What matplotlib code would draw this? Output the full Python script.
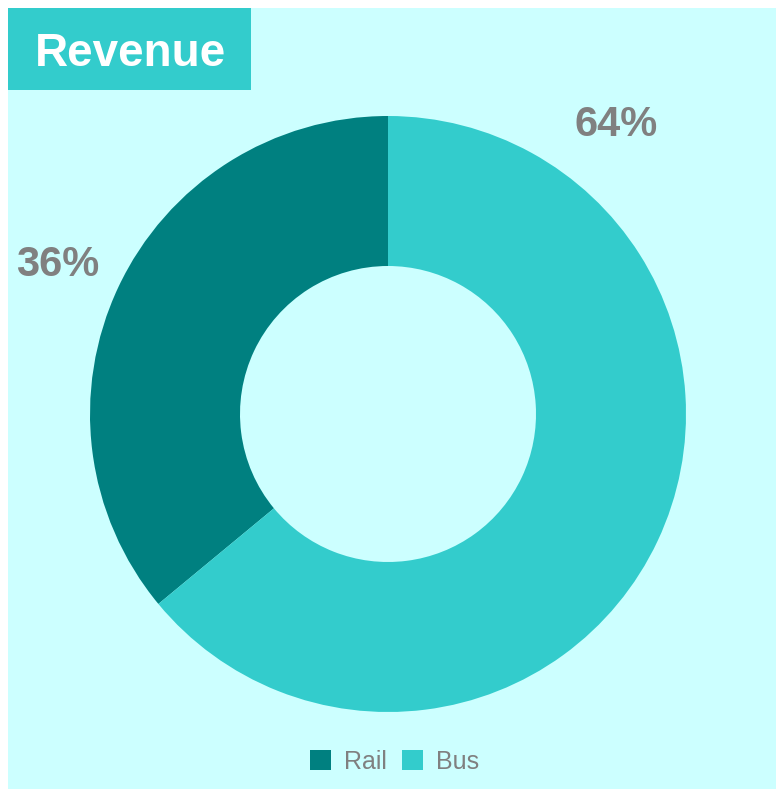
import matplotlib
matplotlib.use("Agg")
import matplotlib.pyplot as plt
from matplotlib.patches import Rectangle, Patch

categories = ["Rail", "Bus"]
shares = [36, 64]
colors = ["#008080", "#33CCCC"]
title = "Revenue"

plt.rcParams["font.family"] = ["Liberation Sans", "DejaVu Sans"]

W, H = 777, 790
fig = plt.figure(figsize=(W / 100, H / 100), dpi=100)
fig.patch.set_facecolor("white")
ax = fig.add_axes([0, 0, 1, 1])

# panel background
ax.add_patch(Rectangle((8, 1), 768, 781, facecolor="#CCFFFF", edgecolor="none", zorder=0))

# donut
wedges, _ = ax.pie(shares, colors=colors, startangle=90, counterclock=True,
                   center=(388, 376), radius=298, frame=True,
                   wedgeprops=dict(width=150, edgecolor="none", linewidth=0))
for w in wedges:
    w.set_zorder(2)
ax.set_xlim(0, W)
ax.set_ylim(0, H)
ax.axis("off")

# percentage labels
total = sum(shares)
label_pos = [(57.5, 525.5), (616.5, 665.5)]
for v, (x, y) in zip(shares, label_pos):
    ax.text(x, y, f"{round(100 * v / total)}%", ha="center", va="center",
            fontsize=30, fontweight="bold", color="#808080", zorder=3)

# title box
ax.add_patch(Rectangle((8, 700), 243, 82, facecolor="#33CCCC", edgecolor="none", zorder=3))
ax.text(131, 736, title, ha="center", va="center", fontsize=33,
        fontweight="bold", color="white", zorder=4)

# legend
handles = [Patch(facecolor=c, edgecolor="none") for c in colors]
leg = ax.legend(handles, categories, loc="center", bbox_to_anchor=(394.5 / W, 28 / H),
                ncol=2, frameon=False, fontsize=18, handlelength=0.84, handleheight=0.84,
                handletextpad=0.52, columnspacing=0.64, borderpad=0, borderaxespad=0)
for t in leg.get_texts():
    t.set_color("#808080")

fig.savefig("out.png", dpi=100, facecolor=fig.get_facecolor())
